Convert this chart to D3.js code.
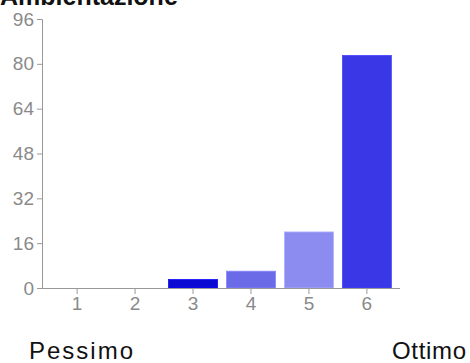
<!DOCTYPE html>
<html><head><meta charset="utf-8">
<script src="https://cdn.jsdelivr.net/npm/d3@7"></script>
<style>body{margin:0;background:#fff}svg{display:block}</style>
</head><body>
<script>
const title = "Ambientazione";
const categories = ["1","2","3","4","5","6"];
const values = [0,0,3,6,20,83];
const barColors = ["#3a37e6","#3a37e6","#0a0ad2","#6b6be8","#8c8cf0","#3a37e6"];
const yTicks = [0,16,32,48,64,80,96];
const lowLabel = "Pessimo", highLabel = "Ottimo";

const W=470,H=363;
const svg=d3.select("body").append("svg").attr("width",W).attr("height",H);
const x=d3.scaleBand().domain(categories).range([48,396]).paddingInner(0.155).paddingOuter(0.08);
const y=d3.scaleLinear().domain([0,96]).range([288,19]);

svg.append("text").attr("x",0).attr("y",5).attr("font-family","Liberation Sans, Arial, sans-serif")
  .attr("font-weight","bold").attr("font-size",25).attr("fill","#111").text(title);

svg.selectAll("rect.bar").data(values).join("rect").attr("class","bar")
  .attr("x",(d,i)=>x(categories[i])).attr("width",x.bandwidth())
  .attr("y",d=>y(d)).attr("height",d=>y(0)-y(d))
  .attr("fill",(d,i)=>barColors[i])
  .attr("stroke",(d,i)=>d3.color(barColors[i]).brighter(0.6)).attr("stroke-width",0.8);

const gy=svg.append("g").attr("transform","translate(42,0)")
  .call(d3.axisLeft(y).tickValues(yTicks).tickSize(5).tickPadding(3));
const gx=svg.append("g").attr("transform","translate(0,288)")
  .call(d3.axisBottom(x).tickSize(6).tickSizeOuter(0).tickPadding(3));
gx.select(".domain").remove();
svg.append("line").attr("x1",42).attr("x2",400).attr("y1",288.5).attr("y2",288.5).attr("stroke","#999").attr("stroke-width",1.2);
[gy,gx].forEach(g=>{
  g.selectAll("text").attr("font-family","Liberation Sans, Arial, sans-serif").attr("font-size",19).attr("fill","#8a8a8a");
  g.selectAll("line").attr("stroke","#999");
  g.selectAll(".domain").attr("stroke","#999");
});

svg.append("text").attr("x",29).attr("y",359).attr("font-family","Liberation Sans, Arial, sans-serif")
  .attr("font-size",24).attr("fill","#111").attr("textLength",104).attr("lengthAdjust","spacing").text(lowLabel);
svg.append("text").attr("x",392).attr("y",359).attr("font-family","Liberation Sans, Arial, sans-serif")
  .attr("font-size",24).attr("fill","#111").attr("textLength",74).attr("lengthAdjust","spacing").text(highLabel);
</script>
</body></html>
